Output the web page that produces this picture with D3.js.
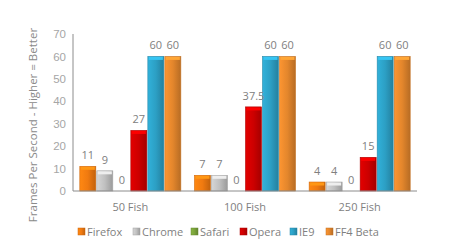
<!DOCTYPE html>
<html>
<head>
<meta charset="utf-8">
<script src="https://cdn.jsdelivr.net/npm/d3@7"></script>
<style>
  body { margin: 0; background: #fff; }
  svg { font-family: "Open Sans", sans-serif; }
</style>
</head>
<body>
<div id="chart"></div>
<script>
// data
const categories = ["50 Fish", "100 Fish", "250 Fish"];
const browsers = ["Firefox", "Chrome", "Safari", "Opera", "IE9", "FF4 Beta"];
const firefox = [11, 7, 4];
const chrome = [9, 7, 4];
const safari = [0, 0, 0];
const opera = [27, 37.5, 15];
const ie9 = [60, 60, 60];
const ff4beta = [60, 60, 60];
const yTicks = [0, 10, 20, 30, 40, 50, 60, 70];

const seriesValues = [firefox, chrome, safari, opera, ie9, ff4beta];
const colors = ["#f07a10", "#c0c0c0", "#7aa33a", "#cc0000", "#2c9fc4", "#e3862c"];

const W = 450, H = 250;
const margin = { top: 34, right: 33, bottom: 59, left: 73 };
const width = W - margin.left - margin.right,
      height = H - margin.top - margin.bottom;

const svg = d3.select("#chart").append("svg")
  .attr("width", W).attr("height", H);

const defs = svg.append("defs");
colors.forEach((c, i) => {
  const g = defs.append("linearGradient").attr("id", "grad" + i)
    .attr("x1", "0%").attr("x2", "100%").attr("y1", "0%").attr("y2", "0%");
  g.append("stop").attr("offset", "0%").attr("stop-color", d3.rgb(c).brighter(0.3));
  g.append("stop").attr("offset", "50%").attr("stop-color", c);
  g.append("stop").attr("offset", "100%").attr("stop-color", d3.rgb(c).darker(0.6));
});

const g = svg.append("g").attr("transform", `translate(${margin.left},${margin.top})`);

const x0 = d3.scaleBand().domain(categories).range([0, width]).paddingInner(0.11).paddingOuter(0.055);
const x1 = d3.scaleBand().domain(browsers).range([0, x0.bandwidth()]);
const y = d3.scaleLinear().domain([0, 70]).range([height, 0]);

// y tick labels
g.append("g")
  .call(d3.axisLeft(y).tickValues(yTicks).tickSize(0).tickPadding(7))
  .call(a => a.select(".domain").remove())
  .selectAll("text")
  .attr("fill", "#a6a6a6").attr("font-size", 11.5);

// bars
const rows = categories.map((c, ci) => browsers.map((b, bi) => ({ cat: c, b, bi, v: seriesValues[bi][ci] })));
const grp = g.selectAll(".grp").data(rows).join("g")
  .attr("transform", (d, i) => `translate(${x0(categories[i])},0)`);

const bars = grp.selectAll(".bar").data(d => d.filter(e => e.v > 0)).join("g");
bars.append("rect")
  .attr("x", d => x1(d.b) + 0.5)
  .attr("y", d => y(d.v))
  .attr("width", x1.bandwidth() - 1)
  .attr("height", d => height - y(d.v))
  .attr("fill", d => `url(#grad${d.bi})`)
  .attr("stroke", d => d3.rgb(colors[d.bi]).darker(0.4))
  .attr("stroke-width", 0.6);
// bevelled top cap
bars.append("rect")
  .attr("x", d => x1(d.b) + 1.5)
  .attr("y", d => y(d.v) + 0.5)
  .attr("width", x1.bandwidth() - 3)
  .attr("height", 3)
  .attr("fill", d => d3.rgb(colors[d.bi]).brighter(0.6));

// value labels
grp.selectAll(".lbl").data(d => d).join("text")
  .attr("x", d => x1(d.b) + x1.bandwidth() / 2)
  .attr("y", d => y(d.v) - 7)
  .attr("text-anchor", "middle")
  .attr("font-size", 11)
  .attr("fill", "#808080")
  .text(d => d.v);

// axis lines
g.append("line").attr("x1", 0).attr("x2", 0).attr("y1", 0).attr("y2", height)
  .attr("stroke", "#8c8c8c");
g.append("line").attr("x1", 0).attr("x2", width).attr("y1", height).attr("y2", height)
  .attr("stroke", "#8c8c8c");

// category labels
g.selectAll(".cat").data(categories).join("text")
  .attr("x", d => x0(d) + x0.bandwidth() / 2)
  .attr("y", height + 20)
  .attr("text-anchor", "middle")
  .attr("font-size", 11)
  .attr("fill", "#7f7f7f")
  .text(d => d);

// y title
svg.append("text")
  .attr("transform", "translate(37,125) rotate(-90)")
  .attr("text-anchor", "middle")
  .attr("font-size", 11.5)
  .attr("fill", "#8a8a8a")
  .text("Frames Per Second - Higher = Better");

// legend
const legendX = [78, 133, 191, 240, 290, 326];
const leg = svg.append("g").selectAll("g").data(browsers).join("g")
  .attr("transform", (d, i) => `translate(${legendX[i]},232)`);
leg.append("rect").attr("x", 0).attr("y", -4).attr("width", 7).attr("height", 7)
  .attr("fill", (d, i) => `url(#grad${i})`)
  .attr("stroke", (d, i) => d3.rgb(colors[i]).darker(0.5)).attr("stroke-width", 0.5);
leg.append("text").attr("x", 9).attr("y", 4)
  .attr("font-size", 11).attr("fill", "#7f7f7f")
  .text(d => d);
</script>
</body>
</html>
